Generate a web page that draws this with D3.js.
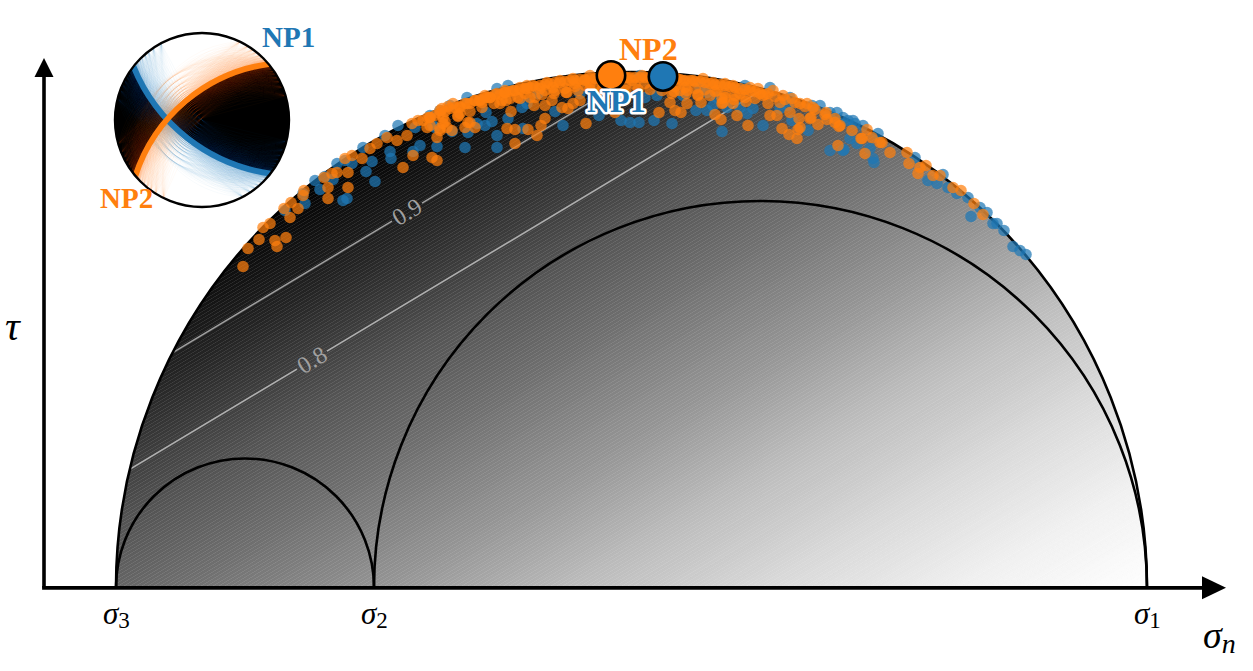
<!DOCTYPE html>
<html>
<head>
<meta charset="utf-8">
<script src="https://cdn.jsdelivr.net/npm/d3@7"></script>
<style>
html,body{margin:0;padding:0;background:#fff;overflow:hidden}
svg{display:block}
text{font-family:"Liberation Serif",serif}
</style>
</head>
<body>
<svg id="chart" width="1253" height="671"></svg>
<script>
// principal stresses (arbitrary units) and friction
const sigma3 = 116, sigma2 = 374, sigma1 = 1147;
const friction = 0.6;
const instabilityLevels = [0.8, 0.9];
const instabilityLabelSigma = [312, 407];
const greys = ["#ffffff","#f0f0f0","#d9d9d9","#bdbdbd","#969696","#737373","#525252","#252525","#000000"];
const principalLabels = [["σ","3",sigma3],["σ","2",sigma2],["σ","1",sigma1]];

// preferred planes: [sigma_n, tau]
const preferredNP1 = [663, 511];
const preferredNP2 = [611, 512];

// focal mechanism: [strike, dip]
const meanNP1 = [128, 60];
const meanNP2 = [230, 58];
const strikeSpread = [-24,-18,-14,-11,-8,-6,-4,-3,-2,-1,0,1,2,3,4,6,8,11,14,18,24];
const dipSpread = [-30,-24,-19,-15,-12,-9,-7,-5,-3,-2,-1,0,1,2,3,5,7,9,12,15,19,24,30];

// sampled fault planes: [sigma_n, tau]
const np1Points = [
[303,394],[305,384],[285,377],[343,387],[347,389],[320,398],[315,407],[333,408],[337,424],[352,424],
[363,440],[366,416],[372,426],[375,406],[390,436],[391,429],[413,436],[420,442],[437,441],[465,440],
[497,440],[497,452],[452,456],[468,455],[485,462],[492,466],[486,475],[508,469],[522,480],[523,459],
[435,460],[415,460],[440,477],[450,482],[467,490],[563,462],[555,476],[538,494],[527,484],[433,462],
[497,499],[508,502],[477,464],[599,472],[621,467],[630,465],[639,465],[654,467],[672,464],[722,456],
[696,477],[707,477],[713,482],[645,490],[657,492],[700,500],[727,480],[707,495],[717,490],[580,494],
[683,492],[595,482],[763,462],[747,474],[753,479],[740,480],[780,479],[792,467],[808,457],[830,437],
[843,437],[850,449],[857,444],[870,439],[853,467],[863,462],[843,470],[837,475],[873,429],[788,482],
[820,482],[770,500],[844,438],[874,425],[878,454],[915,430],[928,407],[937,404],[948,400],[957,394],
[968,390],[980,380],[971,371],[987,375],[993,364],[997,364],[1004,357],[1013,341],[1020,337],[1026,333],
[943,413],[600,509],[640,512],[745,502],[790,490],[812,482],[830,475],[325,411],[398,462],[345,427],
[430,472],[385,452],[848,467],[855,464]
];
const np2Points = [
[243,321],[248,339],[259,348],[275,347],[277,341],[286,350],[263,360],[270,364],[290,370],[298,379],
[284,379],[291,385],[303,392],[304,397],[328,389],[328,400],[348,400],[348,415],[324,410],[332,414],
[337,415],[345,429],[352,432],[362,429],[370,439],[377,444],[387,450],[397,447],[407,452],[413,432],
[403,420],[432,430],[437,427],[437,450],[440,459],[447,460],[412,464],[418,467],[428,470],[430,462],
[443,470],[460,474],[467,484],[468,465],[475,460],[487,490],[482,485],[505,497],[502,487],[511,476],
[520,489],[507,459],[515,458],[515,444],[527,502],[440,457],[443,464],[427,460],[452,457],[465,460],
[470,465],[458,472],[440,477],[448,481],[480,487],[490,490],[500,484],[505,495],[528,458],[537,452],
[541,462],[545,469],[534,482],[535,490],[552,487],[545,482],[562,480],[568,479],[573,484],[520,500],
[533,502],[547,505],[560,507],[573,509],[567,495],[553,500],[540,499],[527,499],[513,497],[497,494],
[485,492],[475,487],[460,480],[430,470],[423,467],[442,479],[453,484],[586,464],[580,487],[575,504],
[585,507],[590,504],[590,512],[603,504],[627,510],[642,512],[632,507],[683,507],[693,507],[703,509],
[713,505],[725,504],[687,497],[698,492],[670,485],[659,475],[675,477],[681,475],[687,484],[701,485],
[715,473],[721,468],[723,485],[615,475],[672,494],[680,497],[677,509],[717,497],[733,502],[725,490],
[740,494],[745,490],[722,484],[733,484],[737,472],[748,462],[758,499],[768,494],[755,489],[768,484],
[770,472],[777,472],[780,485],[790,475],[783,492],[800,484],[792,489],[813,480],[826,475],[827,468],
[811,470],[799,469],[800,460],[818,463],[782,459],[789,453],[797,449],[798,458],[835,465],[839,461],
[852,457],[861,449],[838,442],[865,434],[867,458],[872,450],[880,445],[807,484],[763,492],[773,497],
[750,500],[862,449],[882,445],[890,435],[907,435],[909,424],[918,414],[920,420],[926,422],[933,412],
[940,412],[953,400],[961,397],[974,384],[983,373],[810,469],[840,462],
[520,498],[530,500],[540,502],[550,504],[560,505],[570,507],[580,508],[590,509],[600,509],[610,510],
[620,510],[630,510],[640,510],[650,510],[660,510],[670,509],[680,508],[690,507],[700,506],[710,504],
[720,503],[730,501],[740,499],[750,497],[760,494],
[510,489],[525,494],[545,497],[555,497],[565,499],[575,501],[585,502],[595,502],[605,503],[615,503],
[625,502],[635,503],[645,504],[655,503],[665,502],[675,501],[685,500],[695,499],[705,498],[715,496],
[725,494],[735,492],
[440,474],[450,479],[460,481],[470,484],[480,488],[490,490],[500,493],[510,496],
[430,470],[435,472],[445,476],[455,480],[465,484],[475,487],[485,490],[495,493],[505,495],[515,497],
[525,499],[535,501],[545,503],[555,505],[565,506],[575,507],[585,508],[595,509],[605,510],[615,510],
[625,510],[635,510],[645,510],[655,510],[665,509],[675,508],[685,507],[695,506],[705,505],[715,503],
[725,502],[735,500],[745,498],[755,496],[765,493],[775,491],[785,488],[795,485],[805,481],[815,478],
[825,473],[835,469],
[530,490],[542,493],[554,494],[566,495],[578,497],[590,498],[602,498],[614,498],[626,497],[638,498],
[650,498],[662,497],[674,496],[686,494],[698,493],[710,492],[722,489],[734,488],[746,486],
[445,466],[458,471],[470,476],[482,480],[494,484],[506,487],[518,490]
];

const BLUE = "#1f77b4", ORANGE = "#ff7f0e";
const svg = d3.select("#chart");
const defs = svg.append("defs");

const x = d3.scaleLinear().domain([sigma3, sigma1]).range([116, 1147]);
const y = d3.scaleLinear().domain([0, (sigma1 - sigma3) / 2]).range([587.5, 72]);
const rScale = Math.abs(y(1) - y(0));

function semicircle(a, b) {
  const p = d3.path();
  const r = (x(b) - x(a)) / 2;
  p.moveTo(x(a), y(0));
  p.arc((x(a) + x(b)) / 2, y(0), r, Math.PI, 2 * Math.PI);
  return p.toString();
}

defs.append("clipPath").attr("id", "mohr").append("path")
  .attr("d", semicircle(sigma3, sigma1) + "Z");

// normalised instability: tau at given level and sigma
const R = (sigma1 - sigma3) / 2;
const K = R * Math.sqrt(1 + friction * friction) + friction * R;
const tauAt = (I, s) => I * K + friction * (s - sigma1);

const grey = d3.scaleLinear().domain(greys.map((_, i) => i / (greys.length - 1))).range(greys);

const nBands = 256;
const field = svg.append("g").attr("clip-path", "url(#mohr)");
field.selectAll("path").data(d3.range(nBands)).join("path")
  .attr("d", i => {
    const a = i / nBands, b = (i + 1) / nBands;
    return d3.line()([
      [x(sigma3), y(tauAt(a, sigma3))], [x(sigma1), y(tauAt(a, sigma1))],
      [x(sigma1), y(tauAt(b, sigma1))], [x(sigma3), y(tauAt(b, sigma3))]
    ]) + "Z";
  })
  .attr("fill", i => grey((i + 0.5) / nBands))
  .attr("stroke", i => grey((i + 0.5) / nBands))
  .attr("stroke-width", 0.35);

// instability contours with inline labels
const contourGroup = svg.append("g").attr("clip-path", "url(#mohr)");
const gapHalf = 15;
instabilityLevels.forEach((lev, i) => {
  const s0 = instabilityLabelSigma[i];
  [[sigma3, s0 - gapHalf], [s0 + gapHalf, sigma1]].forEach(seg => {
    contourGroup.append("line")
      .attr("x1", x(seg[0])).attr("y1", y(tauAt(lev, seg[0])))
      .attr("x2", x(seg[1])).attr("y2", y(tauAt(lev, seg[1])))
      .attr("stroke", "rgba(255,255,255,0.58)").attr("stroke-width", 1.5);
  });
  const px = x(s0), py = y(tauAt(lev, s0));
  const angle = -Math.atan(friction * rScale / Math.abs(x(1) - x(0))) * 180 / Math.PI;
  svg.append("text").text(lev.toFixed(1))
    .attr("transform", `translate(${px},${py}) rotate(${angle})`)
    .attr("text-anchor", "middle").attr("dy", "0.33em")
    .attr("font-size", 24).attr("fill", "#a0a0a0");
});

// Mohr circles
[[sigma3, sigma1], [sigma3, sigma2], [sigma2, sigma1]].forEach(c => {
  svg.append("path").attr("d", semicircle(c[0], c[1]))
    .attr("fill", "none").attr("stroke", "#000").attr("stroke-width", 2.6);
});

// scatter
[[np1Points, BLUE], [np2Points, ORANGE]].forEach(([pts, col]) => {
  svg.append("g").selectAll("circle").data(pts).join("circle")
    .attr("cx", d => x(d[0])).attr("cy", d => y(d[1])).attr("r", 5.8)
    .attr("fill", col).attr("fill-opacity", 0.72);
});

// axes
const axisX = 44, axisY = y(0) + 0.3;
svg.append("line").attr("x1", axisX).attr("y1", axisY).attr("x2", 1206).attr("y2", axisY)
  .attr("stroke", "#000").attr("stroke-width", 3.8).attr("stroke-linecap", "square");
svg.append("line").attr("x1", axisX).attr("y1", axisY).attr("x2", axisX).attr("y2", 75)
  .attr("stroke", "#000").attr("stroke-width", 3.6);
svg.append("path").attr("d", d3.line()([[1202, axisY - 11.5], [1226, axisY], [1202, axisY + 11.5]]) + "Z").attr("fill", "#000");
svg.append("path").attr("d", d3.line()([[axisX - 9.5, 77], [axisX, 58], [axisX + 9.5, 77]]) + "Z").attr("fill", "#000");

function mathLabel(px, py, main, sub, size, subSize, shift) {
  const t = svg.append("text").attr("x", px).attr("y", py).attr("font-size", size);
  t.append("tspan").attr("font-style", "italic").text(main);
  if (sub) {
    const ts = t.append("tspan").attr("font-size", subSize).attr("dy", shift).text(sub);
    if (sub === "n") ts.attr("font-style", "italic");
  }
}
principalLabels.forEach(d => mathLabel(x(d[2]) - 13, 624, d[0], d[1], 31, 23, 4));
mathLabel(1203, 648, "σ", "n", 38, 28, 5);
mathLabel(5, 340, "τ", null, 41);

// preferred planes
[[preferredNP2, ORANGE], [preferredNP1, BLUE]].forEach(([p, col]) => {
  svg.append("circle").attr("cx", x(p[0])).attr("cy", y(p[1])).attr("r", 14.2)
    .attr("fill", col).attr("stroke", "#000").attr("stroke-width", 2.6);
});

function npLabel(txt, px, py, col, size, halo) {
  const t = svg.append("text").text(txt).attr("x", px).attr("y", py)
    .attr("font-size", size).attr("font-weight", "bold").attr("fill", col);
  if (halo) t.attr("stroke", "#fff").attr("stroke-width", halo).attr("stroke-linejoin", "round").attr("paint-order", "stroke");
}
npLabel("NP2", 619, 60, ORANGE, 32);
npLabel("NP1", 587, 112, BLUE, 32, 5);

// inset focal mechanism
const cx = 202, cy = 120, rad = 87;
const inset = svg.append("g").attr("transform", `translate(${cx},${cy})`);

function plane(strike, dip) {
  const az = strike * Math.PI / 180;
  const u = [Math.sin(az), -Math.cos(az)];
  const d = Math.tan((90 - dip) / 2 * Math.PI / 180) * rad;
  const rho = (rad * rad + d * d) / (2 * Math.max(d, 0.01));
  return { a: [u[0] * rad, u[1] * rad], b: [-u[0] * rad, -u[1] * rad], rho };
}
function planePath(strike, dip) {
  const c = plane(strike, dip);
  return `M${c.a[0]},${c.a[1]}A${c.rho},${c.rho} 0 0 1 ${c.b[0]},${c.b[1]}`;
}
function halfDisc(strike, dip, outer) {
  const c = plane(strike, dip);
  const sweepRim = outer ? 0 : 1;
  return `M${c.a[0]},${c.a[1]}A${c.rho},${c.rho} 0 0 1 ${c.b[0]},${c.b[1]}A${rad},${rad} 0 0 ${sweepRim} ${c.a[0]},${c.a[1]}Z`;
}
defs.append("clipPath").attr("id", "ballLocal").append("circle").attr("r", rad);
const ballG = inset.append("g").attr("clip-path", "url(#ballLocal)");
ballG.append("circle").attr("r", rad).attr("fill", "#fff");
ballG.append("path")
  .attr("d", halfDisc(meanNP1[0], meanNP1[1], false) + halfDisc(meanNP2[0], meanNP2[1], true))
  .attr("fill", "#000").attr("fill-rule", "evenodd");

[[meanNP1, BLUE], [meanNP2, ORANGE]].forEach(([m, col]) => {
  const g = ballG.append("g").attr("fill", "none").attr("stroke", col).attr("stroke-width", 1).attr("stroke-opacity", 0.03);
  strikeSpread.forEach(ds => dipSpread.forEach(dd => {
    g.append("path").attr("d", planePath(m[0] + ds, m[1] + dd));
  }));
});
[[meanNP1, BLUE], [meanNP2, ORANGE]].forEach(([m, col]) => {
  ballG.append("path").attr("d", planePath(m[0], m[1])).attr("fill", "none")
    .attr("stroke", col).attr("stroke-width", 5.8);
});
inset.append("circle").attr("r", rad).attr("fill", "none").attr("stroke", "#000").attr("stroke-width", 2.4);

npLabel("NP1", 262, 47, BLUE, 29);
npLabel("NP2", 100, 208, ORANGE, 29);
</script>
</body>
</html>
